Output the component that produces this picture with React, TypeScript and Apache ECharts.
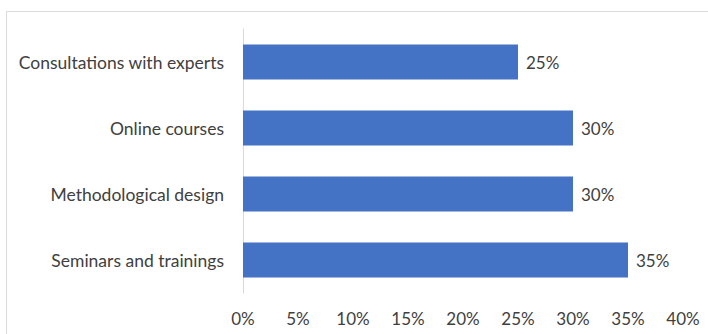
import React, { useEffect, useRef } from "react";
import * as echarts from "echarts";

const categories = [
  "Seminars and trainings",
  "Methodological design",
  "Online courses",
  "Consultations with experts",
];
const values = [35, 30, 30, 25];
const tickMax = 40;
const tickStep = 5;

export default function App() {
  const ref = useRef<HTMLDivElement>(null);
  useEffect(() => {
    const chart = echarts.init(ref.current!, null, { renderer: "svg" });
    const font = "Lato, sans-serif";
    chart.setOption({
      animation: false,
      grid: { left: 243, right: 25, top: 29, bottom: 41, containLabel: false },
      graphic: [
        {
          type: "rect",
          shape: { x: 6.5, y: 11.5, width: 760, height: 400 },
          style: { fill: "none", stroke: "#d9d9d9", lineWidth: 1 },
          silent: true,
        },
      ],
      xAxis: {
        type: "value",
        min: 0,
        max: tickMax,
        interval: tickStep,
        axisLine: { show: false },
        axisTick: { show: false },
        splitLine: { show: false },
        axisLabel: {
          formatter: "{value}%",
          color: "#404040",
          fontSize: 17,
          fontFamily: font,
          margin: 17,
        },
      },
      yAxis: {
        type: "category",
        data: categories,
        axisLine: { show: true, lineStyle: { color: "#d9d9d9", width: 1 } },
        axisTick: { show: false },
        axisLabel: {
          color: "#404040",
          fontSize: 17.5,
          fontFamily: font,
          margin: 19,
        },
      },
      series: [
        {
          type: "bar",
          data: values,
          barCategoryGap: "47%",
          itemStyle: { color: "#4472C4" },
          label: {
            show: true,
            position: "right",
            distance: 8,
            formatter: "{c}%",
            color: "#404040",
            fontSize: 17,
            fontFamily: font,
          },
        },
      ],
    });
    return () => chart.dispose();
  }, []);
  return (
    <div
      ref={ref}
      style={{ position: "fixed", left: 0, top: 0, width: 708, height: 334, background: "#fff" }}
    />
  );
}
